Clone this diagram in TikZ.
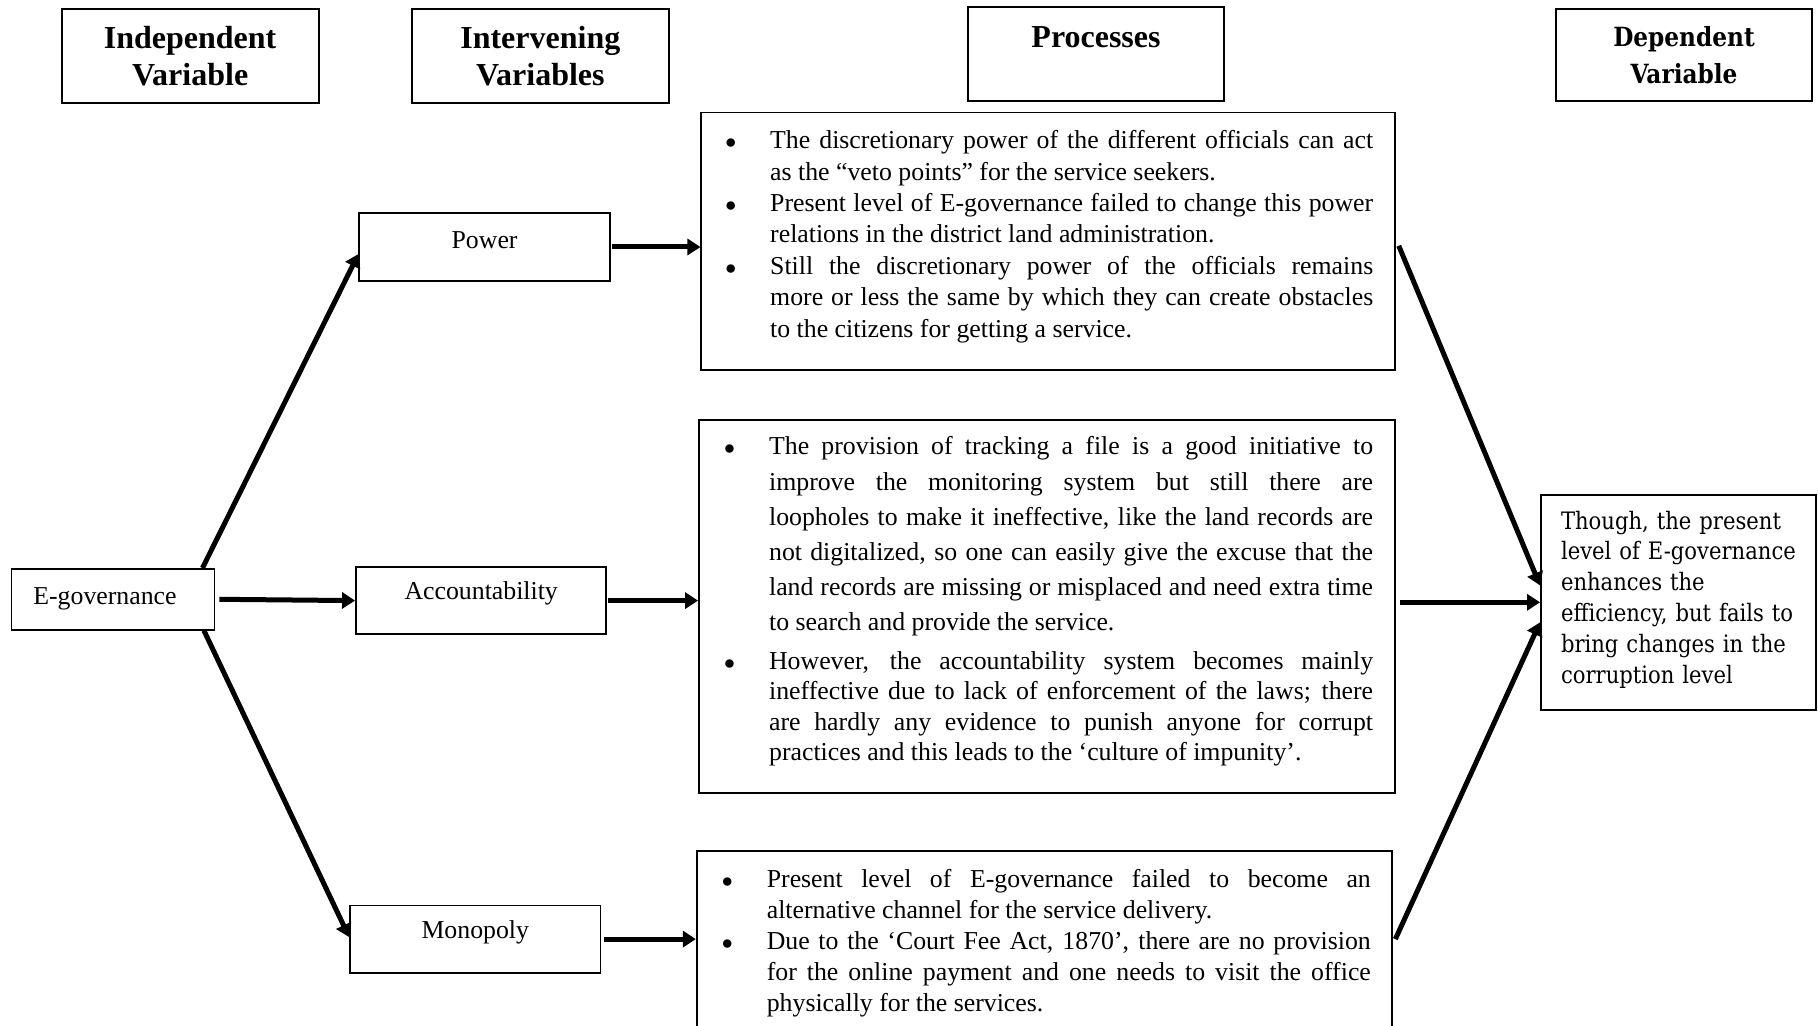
\documentclass[tikz,border=0pt]{standalone}
\usepackage{fontspec}
\setmainfont{Liberation Serif}
\newfontfamily\schfont[FakeStretch=0.88]{DejaVu Serif}
\usetikzlibrary{arrows.meta}
\hfuzz=40pt
\hbadness=10000
\hyphenpenalty=10000
\exhyphenpenalty=10000
% bullet hanging to the left of a paragraph
\newcommand\bul{\noindent\llap{{\fontsize{11}{0}\selectfont$\bullet$}\hspace{17pt}}}
\begin{document}
\begin{tikzpicture}[x=0.5pt,y=-0.5pt,
  box/.style={draw, line width=0.95pt, inner sep=0pt, rectangle},
  hdr/.style={box, minimum width=128.5pt, minimum height=47pt, align=center,
    font=\fontsize{16}{18.5}\selectfont\bfseries},
  lbl/.style={font=\fontsize{12.9}{15}\selectfont},
  ivbox/.style={box, minimum width=125.2pt, minimum height=33.6pt},
  body/.style={inner sep=0pt, anchor=base west, align=justify, text width=301.5pt,
    font=\fontsize{12.9}{#1}\selectfont},
  conn/.style={line width=2.5pt, -{Triangle[length=6.5pt,width=8pt]}},
]
\useasboundingbox (0,0) rectangle (1818,1026);

% column headings
\node[hdr] (indep) at (190.1,56.3) {Independent\\Variable};
\node[hdr] (interv) at (540.3,56.3) {Intervening\\Variables};
\node[hdr, minimum width=128pt,
  label={[anchor=base, yshift=-20.8pt, font=\fontsize{16}{18.5}\selectfont\bfseries]north:Processes}]
  (prochd) at (1096,54) {};
\node[hdr, minimum width=128pt, minimum height=46pt,
  font=\schfont\fontsize{13.2}{18.5}\selectfont\bfseries] (dephd) at (1684,55.2) {Dependent\\Variable};

% independent and intervening variables
\node[box, minimum width=101.5pt, minimum height=30.3pt,
  label={[xshift=-4pt, lbl]center:E-governance}] (egov) at (113,599.3) {};
\node[ivbox, label={[yshift=3.5pt, lbl]center:Power}] (power) at (484.6,247) {};
\node[ivbox, label={[yshift=3.5pt, lbl]center:Accountability}] (acc) at (481.2,600.6) {};
\node[ivbox, label={[yshift=3.5pt, lbl]center:Monopoly}] (mono) at (475.3,939.1) {};

% process boxes
\node[box, minimum width=346.7pt, minimum height=128.65pt] (p1) at (1048.1,241.2) {};
\node[box, minimum width=347.9pt, minimum height=186.65pt] (p2) at (1046.9,606.4) {};
\node[box, minimum width=347.8pt, minimum height=94.5pt] (p3) at (1044.6,945.5) {};

\node[body=15.7pt] (p1t) at (769.8,148.7) {%
\bul The discretionary power of the different officials can act\linebreak
as the ``veto points'' for the service seekers.
\par\bul Present level of E-governance failed to change this power\linebreak
relations in the district land administration.
\par\bul Still the discretionary power of the officials remains\linebreak
more or less the same by which they can create obstacles\linebreak
to the citizens for getting a service.};

\node[body=17.6pt, text width=302pt] (p2a) at (768.7,454.8) {%
\bul The provision of tracking a file is a good initiative to\linebreak
improve the monitoring system but still there are\linebreak
loopholes to make it ineffective, like the land records are\linebreak
not digitalized, so one can easily give the excuse that the\linebreak
land records are missing or misplaced and need extra time\linebreak
to search and provide the service.};
\node[body=15.26pt, text width=302pt] (p2b) at (768.7,669.3) {%
\bul However, the accountability system becomes mainly\linebreak
ineffective due to lack of enforcement of the laws; there\linebreak
are hardly any evidence to punish anyone for corrupt\linebreak
practices and this leads to the `culture of impunity'.};

\node[body=15.5pt, text width=302pt] (p3t) at (766.4,887.3) {%
\bul Present level of E-governance failed to become an\linebreak
alternative channel for the service delivery.
\par\bul Due to the `Court Fee Act, 1870', there are no provision\linebreak
for the online payment and one needs to visit the office\linebreak
physically for the services.};

% dependent variable
\node[box, minimum width=137.5pt, minimum height=107.3pt] (target) at (1678.5,602.3) {};
\node[inner sep=0pt, anchor=base west, align=left, text width=150pt,
  font=\schfont\fontsize{12}{15.42}\selectfont] (targett) at (1560.6,529) {%
Though, the present\\
level of E-governance\\
enhances the\\
efficiency, but fails to\\
bring changes in the\\
corruption level};

% connectors
\draw[conn] ([xshift=-6.5pt]egov.north east) -- ([yshift=-3.5pt]power.west);
\draw[conn] ([xshift=2pt]egov.east) -- (acc.west);
\draw[conn] ([xshift=-5.75pt]egov.south east) -- ([yshift=1pt]mono.west);
\draw[conn] ([xshift=0.5pt]power.east) -- (power.east -| p1.west);
\draw[conn] ([xshift=0.5pt]acc.east) -- (acc.east -| p2.west);
\draw[conn] ([xshift=1.5pt]mono.east) -- (mono.east -| p3.west);
\draw[conn] ([xshift=1.5pt,yshift=-2.3pt]p1.east) -- ([yshift=8.4pt]target.west);
\draw[conn] ([xshift=2pt]p2.east |- target.west) -- (target.west);
\draw[conn] ([xshift=1pt]p3.east |- mono.east) -- ([yshift=-10pt]target.west);
\end{tikzpicture}
\end{document}
